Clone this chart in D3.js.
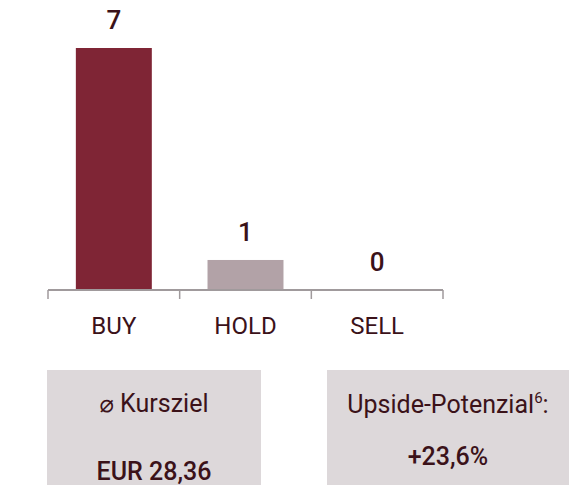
<!DOCTYPE html>
<html>
<head>
<meta charset="utf-8">
<script src="https://cdn.jsdelivr.net/npm/d3@7"></script>
<style>
  body { margin: 0; background: #fff; }
  text { font-family: Roboto, "Noto Sans", sans-serif; }
</style>
</head>
<body>
<div id="container"></div>
<script>
const categories = ["BUY", "HOLD", "SELL"]
const counts = [7, 1, 0]
const barColors = ["#7f2535", "#b2a2a7", "#b2a2a7"]
const boxTitles = ["Kursziel", "Upside-Potenzial"]
const boxValues = ["EUR 28,36", "+23,6%"]

let w = 580, h = 486
let ink = "#3b1219"

let svg = d3.select("#container").append("svg")
    .attr("width", w)
    .attr("height", h)

let x = d3.scaleBand()
    .domain(categories)
    .range([48, 443])
    .paddingInner(0.423)
    .paddingOuter(0.2115)

// baseline sits a bit below zero so the small bar keeps its height
let y = d3.scaleLinear()
    .domain([0.15, 7])
    .range([290, 48])
    .clamp(true)

let data = categories.map((c, i) => ({ cat: c, v: counts[i], color: barColors[i] }))

svg.selectAll("rect.bar")
    .data(data)
    .enter().append("rect")
    .attr("class", "bar")
    .attr("x", d => x(d.cat))
    .attr("width", x.bandwidth())
    .attr("y", d => y(d.v))
    .attr("height", d => 290 - y(d.v))
    .attr("fill", d => d.color)

svg.selectAll("text.val")
    .data(data)
    .enter().append("text")
    .attr("class", "val")
    .attr("x", d => x(d.cat) + x.bandwidth() / 2)
    .attr("y", d => y(d.v) - 19)
    .attr("text-anchor", "middle")
    .attr("font-size", 26)
    .attr("font-weight", 500)
    .attr("fill", ink)
    .text(d => d.v)

// axis line and ticks at the category borders
let step = x.step()
svg.append("line")
    .attr("x1", 48).attr("x2", 443)
    .attr("y1", 290).attr("y2", 290)
    .attr("stroke", "#a09a9c")
    .attr("stroke-width", 2)

d3.range(categories.length + 1).forEach(i => {
    svg.append("line")
        .attr("x1", 48 + i * step).attr("x2", 48 + i * step)
        .attr("y1", 290).attr("y2", 299)
        .attr("stroke", "#a09a9c")
        .attr("stroke-width", 1.5)
})

svg.selectAll("text.cat")
    .data(categories)
    .enter().append("text")
    .attr("class", "cat")
    .attr("x", d => x(d) + x.bandwidth() / 2)
    .attr("y", 334)
    .attr("text-anchor", "middle")
    .attr("font-size", 24)
    .attr("fill", ink)
    .text(d => d)

// info boxes
let boxes = [
    { x: 47, w: 214, titleY: 412, valY: 480 },
    { x: 327, w: 242, titleY: 413, valY: 465 },
]

boxes.forEach((b, i) => {
    svg.append("rect")
        .attr("x", b.x).attr("y", 370)
        .attr("width", b.w).attr("height", 115)
        .attr("fill", "#ddd8da")

    let t = svg.append("text")
        .attr("x", b.x + b.w / 2)
        .attr("y", b.titleY)
        .attr("text-anchor", "middle")
        .attr("font-size", 25)
        .attr("fill", ink)
    if (i == 0) {
        t.append("tspan").attr("font-family", "DejaVu Sans").attr("font-size", 24).text("\u2300")
        t.append("tspan").text(" " + boxTitles[i])
    } else {
        t.text(boxTitles[i])
        t.append("tspan").attr("font-size", 15).attr("dy", -10).text("6")
        t.append("tspan").attr("dy", 10).text(":")
    }

    svg.append("text")
        .attr("x", b.x + b.w / 2)
        .attr("y", b.valY)
        .attr("text-anchor", "middle")
        .attr("font-size", 25)
        .attr("font-weight", 500)
        .attr("fill", ink)
        .text(boxValues[i])
})
</script>
</body>
</html>
